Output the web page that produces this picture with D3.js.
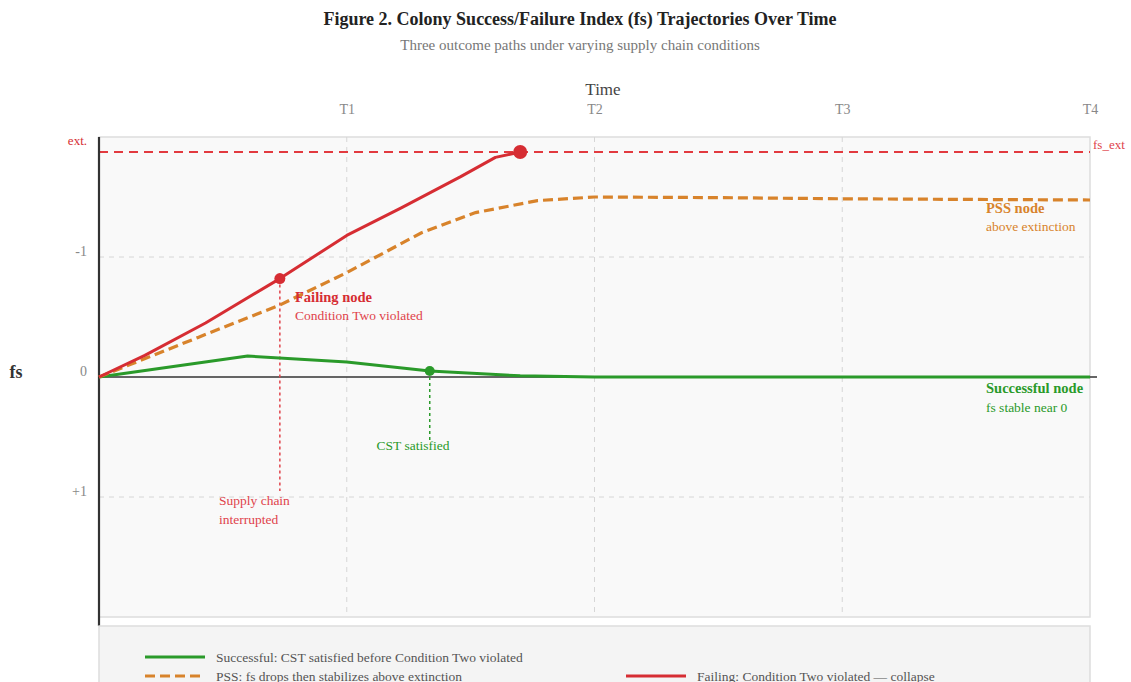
<!DOCTYPE html>
<html><head><meta charset="utf-8">
<script src="https://cdn.jsdelivr.net/npm/d3@7"></script>
<style>body{margin:0;background:#fff}svg{display:block;font-family:"Liberation Serif","Times New Roman",serif}</style>
</head><body><svg id="c" width="1131" height="682"></svg>
<script>
const timeTicks = [1, 2, 3, 4];
const timeLabels = ["T1", "T2", "T3", "T4"];
const fsTicks = [-1, 0, 1];
const fsLabels = ["-1", "0", "+1"];
const fsExt = -1.875;

const failingT  = [0, 0.185, 0.43, 0.73, 1.0, 1.22, 1.46, 1.6, 1.7];
const failingFs = [0, -0.18, -0.45, -0.82, -1.18, -1.41, -1.67, -1.83, -1.875];

const pssT  = [0, 0.4, 0.73, 1.0, 1.3, 1.52, 1.77, 2.0, 2.5, 3.0, 3.5, 4.0];
const pssFs = [0, -0.33, -0.6, -0.87, -1.2, -1.37, -1.47, -1.5, -1.495, -1.485, -1.48, -1.475];

const succT  = [0, 0.6, 1.0, 1.335, 1.7, 2.0, 3.0, 4.0];
const succFs = [0, -0.175, -0.125, -0.05, -0.01, 0, 0, 0];

const C = {red:"#d62d33", orange:"#d8832b", green:"#2a9a2a", redText:"#e0434b"};

const svg = d3.select("#c");
const x = d3.scaleLinear().domain([0, 4]).range([99, 1090]);
const y = d3.scaleLinear().domain([-2, 2]).range([137, 617]);

// title
svg.append("text").attr("x",580).attr("y",25).attr("text-anchor","middle").attr("font-size",18).attr("font-weight","bold").attr("fill","#222").text("Figure 2. Colony Success/Failure Index (fs) Trajectories Over Time");
svg.append("text").attr("x",580).attr("y",50).attr("text-anchor","middle").attr("font-size",15).attr("fill","#777").text("Three outcome paths under varying supply chain conditions");

// plot bg
svg.append("rect").attr("x",x(0)).attr("y",y(-2)).attr("width",x(4)-x(0)).attr("height",y(2)-y(-2)).attr("fill","#f9f9f9").attr("stroke","#dddddd").attr("stroke-width",1.5);

// grid
svg.append("g").selectAll("line").data(timeTicks.slice(0,3)).join("line")
  .attr("x1",d=>x(d)).attr("x2",d=>x(d)).attr("y1",y(-2)).attr("y2",y(2))
  .attr("stroke","#d6d6d6").attr("stroke-dasharray","5,5");
svg.append("g").selectAll("line").data(fsTicks.filter(d=>d!==0)).join("line")
  .attr("x1",x(0)).attr("x2",x(4)).attr("y1",d=>y(d)).attr("y2",d=>y(d))
  .attr("stroke","#d6d6d6").attr("stroke-dasharray","5,5");

// top axis
const xAxis = d3.axisTop(x).tickValues(timeTicks).tickFormat((d,i)=>timeLabels[i]).tickSize(0);
const gx = svg.append("g").attr("transform","translate(0,117)").call(xAxis);
gx.select(".domain").remove();
gx.selectAll("text").attr("font-size",14).attr("fill","#888").attr("font-family","Liberation Serif, serif");
svg.append("text").attr("x",603).attr("y",95).attr("text-anchor","middle").attr("font-size",17).attr("fill","#444").text("Time");

// left axis labels
const yAxis = d3.axisLeft(y).tickValues(fsTicks).tickFormat((d,i)=>fsLabels[i]).tickSize(0).tickPadding(12);
const gy = svg.append("g").attr("transform",`translate(${x(0)},-6)`).call(yAxis);
gy.select(".domain").remove();
gy.selectAll("text").attr("font-size",14).attr("fill","#888").attr("font-family","Liberation Serif, serif");
svg.append("text").attr("x",87).attr("y",y(fsExt)-7).attr("text-anchor","end").attr("font-size",13).attr("fill",C.red).text("ext.");
svg.append("text").attr("x",16).attr("y",y(0)+1).attr("text-anchor","middle").attr("font-size",18).attr("font-weight","bold").attr("fill","#333").text("fs");

// ext line
svg.append("line").attr("x1",x(0)).attr("x2",x(4)).attr("y1",y(fsExt)).attr("y2",y(fsExt))
  .attr("stroke","#e23a3f").attr("stroke-width",2).attr("stroke-dasharray","9,6");
svg.append("text").attr("x",x(4)+3).attr("y",y(fsExt)-3).attr("font-size",13).attr("fill",C.redText).text("fs_ext");

// zero line & y axis
svg.append("line").attr("x1",x(0)).attr("x2",x(4)+7).attr("y1",y(0)).attr("y2",y(0)).attr("stroke","#333").attr("stroke-width",1.5);
svg.append("line").attr("x1",x(0)).attr("x2",x(0)).attr("y1",y(-2)).attr("y2",626).attr("stroke","#333").attr("stroke-width",2.2);

// guide lines
const failDotT = failingT[3], succDotT = succT[3];
svg.append("line").attr("x1",x(failDotT)).attr("x2",x(failDotT)).attr("y1",y(failingFs[3])).attr("y2",y(0.95))
  .attr("stroke",C.redText).attr("stroke-width",1.5).attr("stroke-dasharray","3,3");
svg.append("line").attr("x1",x(succDotT)).attr("x2",x(succDotT)).attr("y1",y(succFs[3])).attr("y2",y(0.55))
  .attr("stroke",C.green).attr("stroke-width",1.5).attr("stroke-dasharray","3,3");

const line = d3.line().x(d=>x(d[0])).y(d=>y(d[1])).curve(d3.curveLinear);
const zip = (a,b)=>a.map((v,i)=>[v,b[i]]);

svg.append("path").attr("d",line(zip(succT,succFs))).attr("fill","none").attr("stroke",C.green).attr("stroke-width",3).attr("stroke-linejoin","round");
svg.append("path").attr("d",line(zip(pssT,pssFs))).attr("fill","none").attr("stroke",C.orange).attr("stroke-width",3.2).attr("stroke-dasharray","10,5");
svg.append("path").attr("d",line(zip(failingT,failingFs))).attr("fill","none").attr("stroke",C.red).attr("stroke-width",3).attr("stroke-linejoin","round");

// dots
svg.append("circle").attr("cx",x(failDotT)).attr("cy",y(failingFs[3])).attr("r",5.5).attr("fill",C.red);
svg.append("circle").attr("cx",x(failingT[failingT.length-1])).attr("cy",y(fsExt)).attr("r",7).attr("fill",C.red);
svg.append("circle").attr("cx",x(succDotT)).attr("cy",y(succFs[3])).attr("r",5).attr("fill",C.green);

// annotations
function ann(xp, yp, t, opts){
  svg.append("text").attr("x",xp).attr("y",yp).attr("font-size",opts.size||12.5)
    .attr("font-weight",opts.bold?"bold":"normal").attr("fill",opts.color)
    .attr("text-anchor",opts.anchor||"start").text(t);
}
ann(295,302,"Failing node",{bold:true,color:C.red,size:14.5});
ann(295,320,"Condition Two violated",{color:C.redText,size:13.5});
ann(219,505,"Supply chain",{color:C.redText,size:13.5});
ann(219,524,"interrupted",{color:C.redText,size:13.5});
ann(413,450,"CST satisfied",{color:C.green,size:13.5,anchor:"middle"});
ann(986,213,"PSS node",{bold:true,color:C.orange,size:14.5});
ann(986,231,"above extinction",{color:C.orange,size:13.5});
ann(986,393,"Successful node",{bold:true,color:C.green,size:14.5});
ann(986,412,"fs stable near 0",{color:C.green,size:13.5});

// legend
svg.append("rect").attr("x",x(0)).attr("y",626).attr("width",x(4)-x(0)).attr("height",80).attr("fill","#f4f4f4").attr("stroke","#dddddd").attr("stroke-width",1.5);
const legendItems = [
  {lx:145, ly:657, color:C.green, dash:null, text:"Successful: CST satisfied before Condition Two violated"},
  {lx:145, ly:676, color:C.orange, dash:"10,5", text:"PSS: fs drops then stabilizes above extinction"},
  {lx:626, ly:676, color:C.red, dash:null, text:"Failing: Condition Two violated \u2014 collapse"}
];
const lg = svg.append("g").selectAll("g").data(legendItems).join("g");
lg.append("line").attr("x1",d=>d.lx).attr("x2",d=>d.lx+60).attr("y1",d=>d.ly).attr("y2",d=>d.ly)
  .attr("stroke",d=>d.color).attr("stroke-width",3.2).attr("stroke-dasharray",d=>d.dash);
lg.append("text").attr("x",d=>d.lx+71).attr("y",d=>d.ly+4.5).attr("font-size",13.5).attr("fill","#555").text(d=>d.text);
</script></body></html>
